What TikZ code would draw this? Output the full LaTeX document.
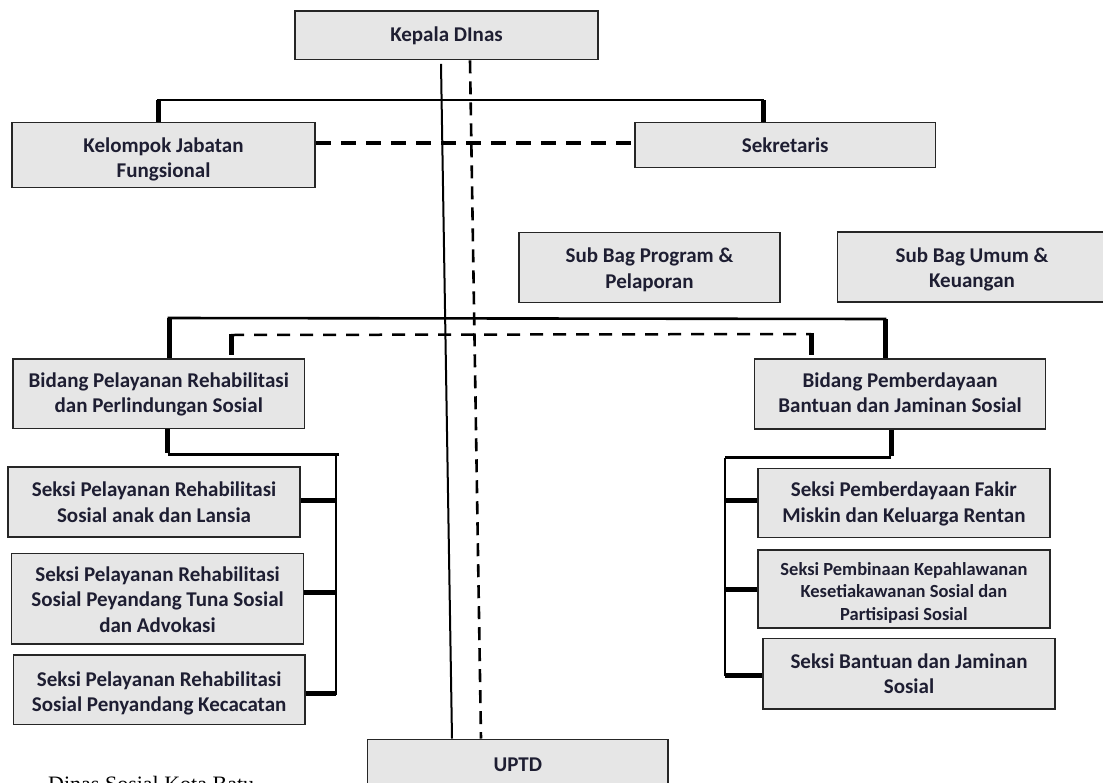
\documentclass[tikz,border=0pt]{standalone}
\usepackage{fontspec}
\setmainfont{Carlito}
\newfontfamily\capfont{Liberation Serif}
\usetikzlibrary{calc}
\definecolor{boxgray}{HTML}{E6E6E6}
\definecolor{edgec}{HTML}{262626}
\definecolor{txtc}{HTML}{1E1E32}
% lower a centred block of lines by #1 without changing the node's size
\newcommand\lowtext[2]{\raisebox{-#1}[\height][\depth]{\begin{tabular}{@{}c@{}}#2\end{tabular}}}
\tikzset{
  box/.style={draw=edgec, line width=1.6pt, fill=boxgray, inner sep=0pt, align=center,
    text=txtc, font=\bfseries\fontsize{21}{25.5}\selectfont},
  smallbox/.style={box, font=\bfseries\fontsize{18.5}{22.3}\selectfont},
  bus/.style={line width=2.6pt, line cap=rect},
  drop/.style={line width=5pt},
  vline/.style={line width=2pt},
  dashv/.style={line width=2.6pt, dash pattern=on 13pt off 8pt},
  dashh/.style={line width=3.5pt, dash pattern=on 15pt off 10pt},
  dashhb/.style={line width=2.5pt, dash pattern=on 13pt off 10pt},
  subbus/.style={line width=3pt},
  subv/.style={line width=2.4pt},
}
\begin{document}
\begin{tikzpicture}[x=1pt,y=-1pt]
\useasboundingbox (0,0) rectangle (1103,782);
\fill[white] (0,0) rectangle (1103,782);
\begin{scope}
\clip (0,0) rectangle (1103,782);
% boxes
\node[box, minimum width=303pt, minimum height=48.5pt] (kd) at (446.5,35.25) {\lowtext{1pt}{Kepala DInas}};
\node[box, minimum width=303pt, minimum height=65pt] (kjf) at (163.5,155) {\lowtext{5pt}{Kelompok Jabatan\\Fungsional}};
\node[box, minimum width=300.5pt, minimum height=45pt] (sek) at (785.25,145) {Sekretaris};
\node[box, minimum width=261pt, minimum height=70pt] (sbp) at (649.5,267.5) {\lowtext{3pt}{Sub Bag Program \&\\Pelaporan}};
\node[box, minimum width=269pt, minimum height=70pt] (sbu) at (972,267) {\lowtext{3pt}{Sub Bag Umum \&\\Keuangan}};
\node[box, minimum width=291.5pt, minimum height=69.5pt] (bpr) at (158.75,393.75) {\lowtext{1pt}{Bidang Pelayanan Rehabilitasi\\dan Perlindungan Sosial}};
\node[box, minimum width=291pt, minimum height=70pt] (bpb) at (900.1,394) {\lowtext{1pt}{Bidang Pemberdayaan\\Bantuan dan Jaminan Sosial}};
\node[box, minimum width=292pt, minimum height=70pt] (sl1) at (154,502) {Seksi Pelayanan Rehabilitasi\\Sosial anak dan Lansia};
\node[box, minimum width=291.8pt, minimum height=90.7pt] (sl2) at (157.5,598.65) {\lowtext{3pt}{Seksi Pelayanan Rehabilitasi\\Sosial Peyandang Tuna Sosial\\dan Advokasi}};
\node[box, minimum width=291.7pt, minimum height=69.3pt] (sl3) at (159.15,689.65) {\lowtext{4pt}{Seksi Pelayanan Rehabilitasi\\Sosial Penyandang Kecacatan}};
\node[box, minimum width=291.8pt, minimum height=69pt] (sr1) at (903.9,502.8) {\lowtext{1.5pt}{Seksi Pemberdayaan Fakir\\Miskin dan Keluarga Rentan}};
\node[smallbox, minimum width=291.8pt, minimum height=77.7pt] (sr2) at (903.9,588.85) {\lowtext{4.5pt}{Seksi Pembinaan Kepahlawanan\\Kesetiakawanan Sosial dan\\Partisipasi Sosial}};
\node[box, minimum width=292pt, minimum height=70.4pt] (sr3) at (909,673.5) {Seksi Bantuan dan Jaminan\\Sosial};
\node[box, minimum width=300.4pt, minimum height=50pt] (uptd) at (517.8,764.3) {UPTD};
% caption (cut by the page edge, as in the reference)
\node[anchor=base west, inner sep=0pt, font=\capfont\fontsize{22}{26}\selectfont] (cap) at (48,791) {Dinas Sosial Kota Batu};

% Kepala lines to UPTD
\draw[vline] ($(kd.south)+(-5.5,3.5)$) -- ($(uptd.north)+(-65.8,0)$);
\draw[dashv] ($(kd.south)+(23.5,0)$) -- ($(uptd.north)+(-36.8,0)$);

% top bus
\coordinate (t1) at (158,100);
\coordinate (t2) at (763,100);
\draw[bus] (t1) -- (t2);
\draw[drop] (t1) -- (t1 |- kjf.north);
\draw[drop] (t2) -- (t2 |- sek.north);
\coordinate (ds) at (0,143);
\draw[dashh] (kjf.east |- ds) -- (sek.west |- ds);

% second bus
\coordinate (b1) at (169,318);
\coordinate (b2) at (885,319);
\draw[bus] (b1) -- (b2);
\draw[drop] (b1) -- (b1 |- bpr.north);
\draw[drop] (b2) -- (b2 |- bpb.north);
\coordinate (d1) at (231,335);
\coordinate (d2) at (811,334);
\coordinate (d1e) at (231,355);
\coordinate (d2e) at (811,355);
\draw[dashhb] (d1) -- (d2);
\draw[drop] ([yshift=1.2pt]d1) -- (d1e);
\draw[drop] ([yshift=1.2pt]d2) -- (d2e);

% left subtree
\coordinate (l1) at (167.5,454);
\coordinate (l2) at (336,454);
\coordinate (l3) at (336,695);
\draw[drop] (l1 |- bpr.south) -- ([yshift=1.5pt]l1);
\draw[subbus] (l1) -- ([xshift=3pt]l2);
\draw[subv] (l2) -- (l3);
\draw[drop] (sl1.east |- 0,500) -- (l2 |- 0,500);
\draw[drop] (sl2.east |- 0,592.7) -- (l2 |- 0,592.7);
\draw[drop] (sl3.east |- 0,693) -- (l2 |- 0,693);

% right subtree
\coordinate (r1) at (891,457);
\coordinate (r2) at (725,457);
\coordinate (r3) at (725,676);
\draw[drop] (r1 |- bpb.south) -- ([yshift=1.5pt]r1);
\draw[subbus] (r1) -- (r2);
\draw[subv] ([yshift=-1pt]r2) -- (r3);
\draw[drop] (sr1.west |- 0,500) -- (r2 |- 0,500);
\draw[drop] (sr2.west |- 0,589.3) -- (r2 |- 0,589.3);
\draw[drop] (sr3.west |- 0,675) -- (r2 |- 0,675);
\end{scope}
\end{tikzpicture}
\end{document}
